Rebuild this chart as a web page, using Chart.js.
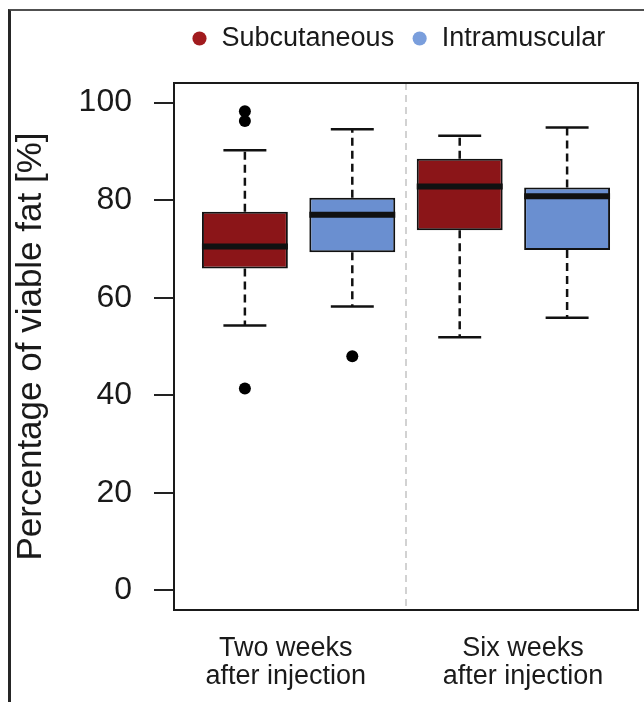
<!DOCTYPE html>
<html>
<head>
<meta charset="utf-8">
<script src="https://cdn.jsdelivr.net/npm/chart.js@4.4.1/dist/chart.umd.min.js"></script>
<style>
  html, body { margin: 0; padding: 0; background: #fff; overflow: hidden; }
  #frame { position: absolute; left: 8px; top: 9px; width: 700px; height: 760px;
           border-top: 2px solid #505050; border-left: 3px solid #262626; }
  #chart { position: absolute; left: 0; top: 0; }
</style>
</head>
<body>
<div id="frame"></div>
<canvas id="chart" width="644" height="702"></canvas>
<script>
// boxplot of viable fat
const seriesNames = ['Subcutaneous', 'Intramuscular'];
const boxColors = ['#8b1518', '#6a8fd0'];
const dotColors = ['#a11b1e', '#7a9edc'];

// slot of each box on the x axis (1..4 like R's boxplot)
const subPos = [1, 3];
const intraPos = [2, 4];

const subLow = [54.3, 51.9];
const subQ1 = [66.0, 73.8];
const subMed = [70.5, 82.8];
const subQ3 = [77.6, 88.5];
const subHigh = [90.2, 93.2];
const subOut = [[98.2, 96.2, 41.4], []];

const intraLow = [58.2, 55.9];
const intraQ1 = [69.3, 69.8];
const intraMed = [77.0, 80.8];
const intraQ3 = [80.5, 82.6];
const intraHigh = [94.5, 94.9];
const intraOut = [[48.0], []];

const groupLabels = [['Two weeks', 'after injection'], ['Six weeks', 'after injection']];
const groupLabelPos = [1.38, 3.59];
const separatorPos = [2.5];
const yTicks = [0, 20, 40, 60, 80, 100];

const boxHalf = 0.4;   // box width 0.8
const capHalf = 0.2;   // staple half width

const series = [
    { pos: subPos, low: subLow, q1: subQ1, med: subMed, q3: subQ3, high: subHigh, out: subOut },
    { pos: intraPos, low: intraLow, q1: intraQ1, med: intraMed, q3: intraQ3, high: intraHigh, out: intraOut }
];

const FONT = '"Liberation Sans", Arial, Helvetica, sans-serif';
Chart.defaults.font.family = FONT;
Chart.defaults.color = '#1a1a1a';

const datasets = series.map((s, k) => ({
    type: 'bar',
    label: seriesNames[k],
    data: s.pos.map((p, i) => ({ x: p, y: [s.q1[i], s.q3[i]] })),
    backgroundColor: boxColors[k],
    borderColor: '#111',
    borderWidth: 2,
    borderSkipped: false,
    grouped: false,
    categoryPercentage: boxHalf * 2,
    barPercentage: 1.0
}));

const outPoints = [];
series.forEach(s => s.out.forEach((vals, i) => vals.forEach(v => outPoints.push({ x: s.pos[i], y: v }))));
datasets.push({
    type: 'scatter',
    label: 'outliers',
    data: outPoints,
    backgroundColor: '#000',
    borderWidth: 0,
    pointRadius: 6
});

// --- gap between legend and plot ---
const legendGap = {
    id: 'legendGap',
    beforeInit(chart) {
        Chart.layouts.addBox(chart, {
            position: 'top', weight: 1, fullSize: false, options: {},
            isHorizontal() { return true; },
            update(w) { this.width = w; this.height = 21; },
            draw() {}
        });
    }
};

// --- whiskers, medians, separator and plot frame ---
const boxDecor = {
    id: 'boxDecor',
    beforeDatasetsDraw(chart) {
        const { ctx, chartArea: a, scales: { x } } = chart;
        ctx.save();
        ctx.strokeStyle = '#c4c4c4';
        ctx.lineWidth = 1.5;
        ctx.setLineDash([7, 5]);
        separatorPos.forEach(v => {
            const px = x.getPixelForValue(v);
            ctx.beginPath();
            ctx.moveTo(px, a.top);
            ctx.lineTo(px, a.bottom);
            ctx.stroke();
        });
        ctx.restore();
    },
    afterDatasetsDraw(chart) {
        const { ctx, chartArea: a, scales: { x, y } } = chart;
        const seg = (x1, y1, x2, y2) => { ctx.beginPath(); ctx.moveTo(x1, y1); ctx.lineTo(x2, y2); ctx.stroke(); };
        ctx.save();
        ctx.strokeStyle = '#111';
        series.forEach(s => s.pos.forEach((p, i) => {
            const cx = x.getPixelForValue(p);
            const yHi = y.getPixelForValue(s.high[i]);
            const yLo = y.getPixelForValue(s.low[i]);
            ctx.lineWidth = 2.5;
            ctx.setLineDash([8, 5]);
            seg(cx, y.getPixelForValue(s.q3[i]), cx, yHi);
            seg(cx, y.getPixelForValue(s.q1[i]), cx, yLo);
            ctx.setLineDash([]);
            const cl = x.getPixelForValue(p - capHalf);
            const cr = x.getPixelForValue(p + capHalf);
            seg(cl, yHi, cr, yHi);
            seg(cl, yLo, cr, yLo);
            const ym = y.getPixelForValue(s.med[i]);
            ctx.lineWidth = 6;
            seg(x.getPixelForValue(p - boxHalf), ym, x.getPixelForValue(p + boxHalf), ym);
        }));
        ctx.lineWidth = 2;
        ctx.strokeStyle = '#1a1a1a';
        ctx.strokeRect(a.left, a.top, a.width, a.height);
        ctx.restore();
    }
};

new Chart(document.getElementById('chart'), {
    type: 'bar',
    data: { datasets: datasets },
    options: {
        responsive: false,
        animation: false,
        devicePixelRatio: 1,
        layout: { padding: { top: 8, right: 5, left: 0, bottom: 0 } },
        scales: {
            x: {
                type: 'linear',
                min: 0.34,
                max: 4.66,
                offset: false,
                afterBuildTicks: s => { s.ticks = groupLabelPos.map(v => ({ value: v })); },
                afterFit: s => { s.height = 92; },
                ticks: {
                    callback: (v, i) => groupLabels[i],
                    color: '#1a1a1a',
                    padding: 24,
                    maxRotation: 0,
                    autoSkip: false,
                    font: { size: 27, lineHeight: 1.05 }
                },
                grid: { display: false, drawTicks: false },
                border: { display: false }
            },
            y: {
                min: -4,
                max: 104,
                afterBuildTicks: s => { s.ticks = yTicks.map(v => ({ value: v })); },
                afterFit: s => { s.width = 174; },
                ticks: { color: '#1a1a1a', padding: 22, font: { size: 32 } },
                grid: { drawOnChartArea: false, tickLength: 20, color: '#222', lineWidth: 2 },
                border: { display: false },
                title: {
                    display: true,
                    text: 'Percentage of viable fat [%]',
                    color: '#1a1a1a',
                    font: { size: 35, lineHeight: 1.2 },
                    padding: { top: 10, bottom: 0 }
                }
            }
        },
        plugins: {
            tooltip: { enabled: false },
            legend: {
                position: 'top',
                align: 'start',
                fullSize: false,
                labels: {
                    usePointStyle: true,
                    boxWidth: 17,
                    boxHeight: 10,
                    padding: 17,
                    font: { size: 27 },
                    generateLabels: () => seriesNames.map((n, k) => ({
                        text: n,
                        fillStyle: dotColors[k],
                        strokeStyle: dotColors[k],
                        fontColor: '#1a1a1a',
                        lineWidth: 0,
                        pointStyle: 'circle',
                        hidden: false,
                        datasetIndex: k
                    }))
                }
            }
        }
    },
    plugins: [legendGap, boxDecor]
});
</script>
</body>
</html>
